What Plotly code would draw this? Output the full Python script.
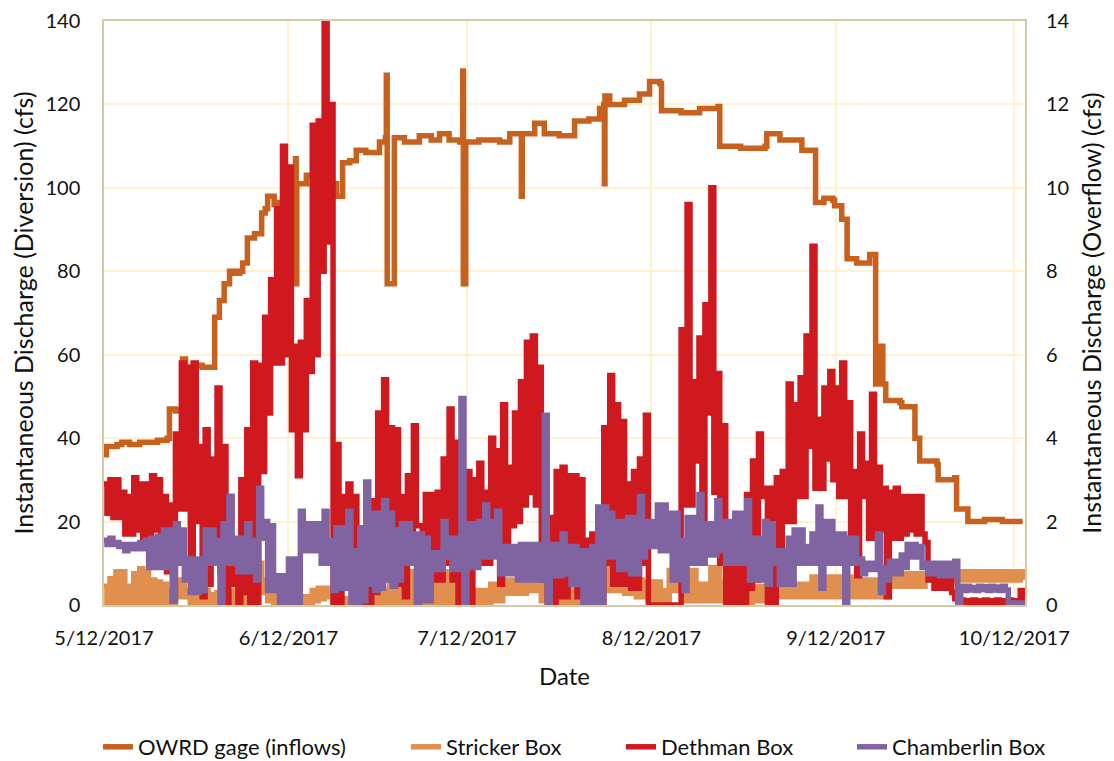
import pandas as pd
import plotly.graph_objects as go

# ---------------- data ----------------
start_date = "2017-05-12"
tick_dates = ["2017-05-12", "2017-06-12", "2017-07-12", "2017-08-12", "2017-09-12", "2017-10-12"]
tick_labels = ["5/12/2017", "6/12/2017", "7/12/2017", "8/12/2017", "9/12/2017", "10/12/2017"]

# OWRD gage (inflows), left axis (cfs); time given as days after 5/12/2017
owrd_day = [0.0, 0.4, 2.2, 3.0, 4.3, 6.0, 7.6, 9.0, 10.1, 10.6,
            11.0, 12.0, 13.0, 13.2, 13.7, 15.0, 16.5, 18.4, 18.6, 19.4,
            20.2, 21.1, 22.0, 22.8, 23.3, 24.1, 25.3, 26.5, 27.1, 27.5,
            28.6, 29.5, 30.7, 32.0, 32.2, 32.3, 32.4, 32.8, 34.0, 35.0,
            36.5, 37.9, 39.1, 40.1, 41.3, 42.4, 44.0, 46.3, 47.3, 47.45,
            47.6, 48.8, 50.5, 53.0, 55.0, 56.4, 58.0, 59.8, 60.2, 60.3,
            60.4, 60.8, 63.0, 66.5, 68.2, 70.0, 70.15, 70.3, 72.4, 74.0,
            76.5, 79.1, 81.5, 83.3, 84.0, 84.1, 84.2, 85.0, 87.5, 90.0,
            91.7, 93.4, 93.7, 97.0, 100.1, 103.2, 103.5, 107.0, 111.1, 111.4,
            113.1, 113.6, 116.9, 117.3, 119.3, 119.6, 121.0, 122.5, 122.8, 123.7,
            124.0, 124.5, 124.9, 126.5, 128.7, 129.5, 129.7, 130.4, 130.9, 131.4,
            133.8, 134.1, 136.0, 136.3, 137.1, 140.0, 140.2, 143.0, 143.3, 145.0,
            145.2, 148.0, 151.0, 154.4]
owrd_cfs = [36, 38, 38.5, 39, 38.5, 39, 39, 39.5, 39.5, 40,
            47, 46.5, 47, 59, 57, 57.5, 57, 57, 69, 73,
            77, 80, 79.5, 80, 82, 88, 89, 94, 95, 98,
            96, 96.5, 96, 101, 107, 77, 101, 101, 103, 101,
            101.5, 101, 98, 106, 106.5, 109, 108.5, 111, 112, 127,
            77, 112, 111, 112.5, 111.5, 113, 111.5, 111, 111, 128,
            77, 111, 111.5, 111, 113, 113, 98, 113, 115.5, 113,
            112.5, 116, 116.5, 119, 120, 101, 122, 120, 121, 122.5,
            125.5, 125, 118.5, 118, 119, 119.5, 110, 109.5, 110, 113,
            113, 111.5, 111.5, 109, 109, 96.5, 97.5, 97, 95.7, 95.7,
            92.5, 92.5, 83, 82, 84, 84, 53, 62, 53, 49,
            48.5, 47.5, 47.5, 40, 34.5, 33.7, 30, 30.5, 23, 23,
            20, 20.5, 20, 20]

# Daily high / low readings (right axis, cfs), day 0 = 5/12/2017 ... day 154
stricker_hi = [0.45, 0.63, 0.8, 0.8, 0.45, 0.75, 0.87, 0.8, 0.6, 0.55,
               0.5, 0.35, 0.6, 0.6, 0.35, 0.35, 0.3, 0.35, 0.25, 0.3,
               0.2, 0.3, 0.35, 0.3, 0.35, 0.6, 1.0, 0.6, 0.55, 0.55,
               0.5, 0.55, 0.55, 0.2, 0.2, 0.35, 0.4, 0.4, 0.35, 0.3,
               0.15, 0.15, 0.15, 0.15, 0.15, 0.15, 0.35, 0.35, 0.5, 0.8,
               0.4, 0.8, 0.8, 0.6, 0.8, 0.75, 0.8, 0.8, 0.7, 0.75,
               0.75, 0.75, 0.35, 0.35, 0.35, 0.5, 0.5, 0.6, 0.6, 0.6,
               0.6, 0.67, 0.67, 0.5, 0.5, 0.67, 0.67, 0.67, 0.67, 0.5,
               0.5, 0.5, 0.5, 0.5, 1.1, 1.2, 1.1, 0.67, 0.67, 0.6,
               0.6, 0.55, 0.55, 0.55, 0.35, 0.83, 0.83, 0.83, 0.83, 0.83,
               0.5, 0.5, 0.9, 0.9, 0.55, 0.55, 0.55, 0.55, 0.55, 0.45,
               0.45, 0.45, 0.45, 0.5, 0.5, 0.5, 0.5, 0.5, 0.5, 0.67,
               0.67, 0.67, 0.67, 0.67, 0.67, 0.67, 0.6, 0.6, 0.6, 0.6,
               0.6, 0.5, 0.75, 0.75, 0.75, 0.75, 0.75, 0.75, 0.75, 0.75,
               0.75, 0.75, 0.75, 0.75, 0.8, 0.8, 0.8, 0.8, 0.8, 0.8,
               0.8, 0.8, 0.8, 0.8, 0.8]
stricker_lo = [0.0, 0.0, 0.0, 0.0, 0.0, 0.0, 0.0, 0.0, 0.0, 0.05,
               0.0, 0.0, 0.2, 0.2, 0.0, 0.0, 0.0, 0.0, 0.0, 0.0,
               0.0, 0.0, 0.0, 0.0, 0.0, 0.0, 0.3, 0.1, 0.0, 0.0,
               0.0, 0.0, 0.0, 0.0, 0.0, 0.1, 0.15, 0.2, 0.1, 0.05,
               0.0, 0.0, 0.0, 0.0, 0.0, 0.0, 0.0, 0.0, 0.0, 0.0,
               0.0, 0.0, 0.0, 0.0, 0.0, 0.0, 0.0, 0.0, 0.0, 0.0,
               0.0, 0.0, 0.0, 0.0, 0.0, 0.1, 0.1, 0.28, 0.28, 0.28,
               0.28, 0.35, 0.35, 0.1, 0.1, 0.05, 0.05, 0.05, 0.05, 0.0,
               0.0, 0.0, 0.0, 0.0, 0.35, 0.35, 0.35, 0.28, 0.28, 0.2,
               0.2, 0.1, 0.1, 0.1, 0.1, 0.35, 0.35, 0.1, 0.1, 0.1,
               0.1, 0.1, 0.1, 0.1, 0.05, 0.05, 0.05, 0.05, 0.05, 0.1,
               0.1, 0.1, 0.1, 0.2, 0.2, 0.2, 0.2, 0.2, 0.2, 0.2,
               0.2, 0.2, 0.2, 0.2, 0.2, 0.2, 0.2, 0.2, 0.2, 0.2,
               0.2, 0.2, 0.45, 0.45, 0.45, 0.45, 0.45, 0.45, 0.6, 0.6,
               0.6, 0.6, 0.6, 0.6, 0.6, 0.6, 0.6, 0.6, 0.6, 0.6,
               0.6, 0.6, 0.6, 0.6, 0.6]

dethman_hi = [2.9, 3.0, 3.0, 2.7, 2.6, 3.05, 2.9, 2.9, 3.1, 3.0,
              2.6, 2.4, 4.1, 5.8, 5.7, 5.8, 3.8, 4.2, 3.5, 5.2,
              3.8, 2.6, 1.5, 3.0, 4.2, 5.8, 5.75, 6.9, 7.8, 9.5,
              11.0, 10.5, 6.2, 6.3, 7.3, 11.5, 11.6, 14.5, 12.0, 3.85,
              2.6, 2.9, 2.6, 1.8, 1.7, 2.5, 4.6, 5.4, 4.25, 4.2,
              2.6, 3.1, 4.3, 1.9, 2.65, 2.65, 2.7, 3.5, 4.7, 3.9,
              2.0, 3.2, 3.0, 3.4, 2.7, 4.0, 3.7, 4.8, 3.3, 4.6,
              5.35, 6.3, 6.45, 5.7, 2.1, 2.1, 3.2, 3.3, 3.1, 3.1,
              3.0, 1.55, 1.7, 2.25, 4.25, 5.5, 4.8, 4.4, 2.9, 3.2,
              3.5, 4.55, 0.0, 0.0, 0.0, 0.0, 0.0, 6.6, 9.6, 5.35,
              6.4, 7.2, 10.0, 5.55, 4.3, 1.0, 1.0, 1.2, 2.65, 3.45,
              4.1, 2.8, 2.8, 3.05, 3.2, 5.3, 4.8, 5.45, 6.45, 8.6,
              4.45, 5.2, 5.6, 5.2, 5.8, 4.85, 3.2, 4.1, 3.4, 5.05,
              3.3, 2.8, 2.7, 2.8, 2.6, 2.6, 2.6, 2.6, 1.5, 0.65,
              0.6, 0.6, 0.7, 0.15, 0.12, 0.1, 0.12, 0.1, 0.12, 0.1,
              0.12, 0.1, 0.12, 0.1, 0.35]
dethman_lo = [2.2, 2.1, 2.1, 1.7, 1.7, 1.8, 1.6, 1.7, 1.8, 1.0,
              0.8, 0.1, 2.3, 2.3, 1.2, 2.0, 0.2, 0.5, 1.0, 0.8,
              0.0, 0.5, 0.0, 0.3, 0.0, 0.0, 3.2, 4.6, 5.8, 5.8,
              6.0, 4.2, 3.1, 4.2, 5.6, 6.0, 8.0, 8.7, 0.0, 0.0,
              1.0, 1.0, 0.2, 0.0, 0.0, 0.3, 1.0, 1.8, 0.5, 0.5,
              0.2, 1.0, 1.9, 0.2, 0.5, 0.6, 0.6, 1.0, 0.6, 0.0,
              0.0, 0.0, 1.0, 1.0, 1.0, 1.8, 0.5, 1.0, 1.9, 2.0,
              2.4, 2.7, 2.4, 0.6, 0.0, 0.0, 0.2, 0.2, 0.5, 0.2,
              0.2, 0.0, 0.0, 0.0, 1.0, 0.5, 0.5, 0.5, 0.4, 0.4,
              1.0, 0.0, 0.0, 0.0, 0.0, 0.0, 0.0, 2.4, 2.4, 3.45,
              1.0, 4.6, 2.7, 1.0, 0.0, 0.0, 0.0, 0.0, 0.4, 0.6,
              2.6, 0.0, 0.0, 1.0, 2.0, 2.0, 2.6, 2.6, 3.8, 2.8,
              2.8, 3.5, 3.0, 2.6, 2.6, 1.0, 0.7, 2.6, 1.6, 1.6,
              1.8, 0.2, 1.6, 1.6, 1.7, 1.8, 1.7, 1.7, 0.6, 0.4,
              0.4, 0.4, 0.3, 0.0, 0.02, 0.0, 0.02, 0.0, 0.02, 0.0,
              0.02, 0.0, 0.02, 0.0, 0.0]

chamberlin_hi = [1.55, 1.6, 1.5, 1.45, 1.45, 1.45, 1.5, 1.55, 1.6, 1.65,
                 1.8, 1.8, 1.95, 1.8, 1.1, 1.1, 1.1, 1.8, 1.8, 1.55,
                 1.95, 2.6, 1.6, 1.6, 1.95, 1.55, 2.8, 2.0, 1.9, 0.7,
                 0.7, 1.1, 1.1, 2.25, 1.95, 1.95, 1.95, 2.25, 1.55, 1.85,
                 1.85, 2.25, 1.3, 1.85, 2.95, 2.2, 2.2, 2.5, 2.2, 1.8,
                 1.95, 1.95, 1.7, 1.7, 1.6, 1.25, 1.25, 2.0, 1.6, 1.6,
                 4.95, 1.95, 1.95, 2.0, 2.4, 2.0, 2.25, 1.4, 1.4, 1.4,
                 1.45, 1.45, 1.45, 1.45, 4.55, 1.45, 1.45, 1.7, 1.4, 1.4,
                 1.3, 1.3, 1.4, 2.35, 2.35, 2.2, 2.0, 2.0, 2.1, 2.1,
                 2.6, 2.0, 2.0, 2.4, 2.4, 2.2, 2.2, 1.55, 2.1, 2.1,
                 2.65, 1.95, 1.95, 2.5, 2.0, 2.0, 2.2, 2.2, 2.5, 1.6,
                 1.6, 2.0, 1.95, 1.3, 1.3, 1.6, 1.8, 1.8, 1.4, 1.7,
                 2.35, 2.0, 2.0, 1.7, 1.7, 1.6, 1.6, 1.1, 1.0, 1.0,
                 1.7, 0.9, 1.05, 1.05, 1.2, 1.45, 1.45, 1.4, 1.0, 1.0,
                 1.0, 1.0, 1.0, 1.05, 0.45, 0.45, 0.42, 0.45, 0.44, 0.45,
                 0.43, 0.45, 0.05, 0.05, 0.05]
chamberlin_lo = [1.45, 1.45, 1.4, 1.3, 1.35, 1.35, 1.35, 0.9, 0.9, 0.9,
                 0.9, 0.1, 1.0, 0.6, 0.3, 0.3, 0.35, 1.0, 1.0, 0.0,
                 1.0, 1.0, 0.8, 0.8, 0.8, 0.6, 1.6, 0.35, 0.35, 0.0,
                 0.0, 0.0, 0.0, 1.3, 1.3, 1.3, 1.0, 1.0, 0.35, 0.4,
                 0.4, 0.0, 0.0, 0.1, 0.5, 0.35, 0.4, 0.6, 0.45, 0.6,
                 1.0, 1.0, 0.0, 0.1, 0.1, 0.85, 0.85, 1.15, 0.85, 0.85,
                 0.0, 0.9, 0.9, 1.15, 1.15, 1.15, 0.75, 0.75, 0.75, 0.6,
                 0.6, 0.6, 0.6, 0.6, 0.0, 0.7, 0.7, 0.75, 0.5, 0.5,
                 0.0, 0.0, 0.0, 0.0, 1.15, 1.15, 0.85, 0.85, 0.75, 0.75,
                 1.15, 1.4, 1.4, 1.3, 1.3, 0.6, 0.6, 0.35, 1.0, 1.0,
                 1.0, 1.2, 1.2, 1.3, 1.0, 1.0, 1.0, 1.0, 0.6, 0.6,
                 0.6, 0.5, 1.0, 0.5, 0.5, 0.5, 1.0, 1.0, 1.0, 1.0,
                 0.4, 1.0, 1.0, 1.0, 0.0, 1.0, 1.0, 0.75, 0.85, 0.85,
                 0.3, 0.6, 0.75, 0.75, 0.9, 1.15, 1.15, 0.9, 0.75, 0.75,
                 0.7, 0.7, 0.7, 0.05, 0.35, 0.36, 0.35, 0.37, 0.35, 0.36,
                 0.35, 0.36, 0.0, 0.0, 0.0]

series_names = ["OWRD gage (inflows)", "Stricker Box", "Dethman Box", "Chamberlin Box"]
series_colors = ["#C8601E", "#E08F4F", "#D0181F", "#8064A2"]

# ---------------- build ----------------
base = pd.Timestamp(start_date)


def daily_trace(hi, lo):
    xs, ys = [], []
    for i, (h, l) in enumerate(zip(hi, lo)):
        xs.append(base + pd.Timedelta(days=i))
        ys.append(h)
        xs.append(base + pd.Timedelta(days=i + 0.5))
        ys.append(l)
    return xs, ys


fig = go.Figure()
owrd_x = [base + pd.Timedelta(days=d) for d in owrd_day]
fig.add_trace(go.Scatter(x=owrd_x, y=owrd_cfs, mode="lines", name=series_names[0],
                         legend="legend",
                         line=dict(color=series_colors[0], width=5.5, shape="hv")))
legend_ids = ["legend2", "legend3", "legend4"]
for k, (name, color, hi, lo) in enumerate([(series_names[1], series_colors[1], stricker_hi, stricker_lo),
                                           (series_names[2], series_colors[2], dethman_hi, dethman_lo),
                                           (series_names[3], series_colors[3], chamberlin_hi, chamberlin_lo)]):
    xs, ys = daily_trace(hi, lo)
    fig.add_trace(go.Scatter(x=xs, y=ys, mode="lines", name=name, yaxis="y2",
                             legend=legend_ids[k],
                             line=dict(color=color, width=5.5, shape="hv")))

grid_col = "#FFF2CC"
border_col = "#D3CBA3"
font_family = "Lato, 'Open Sans', sans-serif"

# the page body adds an 8px offset, so the figure is 8px smaller and shifted
page_off = 8
fig_w, fig_h = 1114 - page_off, 761 - page_off
plot_top = 21 - page_off
plot_bottom = 605 - page_off
plot_left, plot_w = 104 - page_off, 921
plot_h = plot_bottom - plot_top
legend_text_px = [138, 446, 661, 892]
legend_y = (plot_bottom - (747 - page_off)) / plot_h


def legend_box(px):
    return dict(orientation="h", x=(px - page_off - 40 - plot_left) / plot_w, xanchor="left",
                y=legend_y, yanchor="middle", font=dict(size=22),
                bgcolor="rgba(0,0,0,0)", borderwidth=0)


fig.update_layout(
    template="none",
    width=fig_w, height=fig_h,
    margin=dict(l=plot_left, r=fig_w - plot_left - plot_w, t=plot_top,
                b=fig_h - plot_bottom, autoexpand=False),
    paper_bgcolor="white", plot_bgcolor="white",
    font=dict(family=font_family, size=20, color="#111111"),
    showlegend=True,
    legend=legend_box(legend_text_px[0]),
    legend2=legend_box(legend_text_px[1]),
    legend3=legend_box(legend_text_px[2]),
    legend4=legend_box(legend_text_px[3]),
    xaxis=dict(type="date", automargin=False,
               range=[base, base + pd.Timedelta(days=154.8)],
               tickvals=tick_dates, ticktext=tick_labels,
               showgrid=True, gridcolor=grid_col, gridwidth=1.5,
               showline=True, linecolor=border_col, linewidth=1.5, mirror=True,
               ticks="outside", ticklen=14, tickcolor="rgba(0,0,0,0)",
               ticklabeloverflow="allow",
               zeroline=False,
               title=dict(text="Date", font=dict(size=24), standoff=20)),
    yaxis=dict(range=[0, 140], tick0=0, dtick=20, automargin=False,
               showgrid=True, gridcolor=grid_col, gridwidth=1.5,
               showline=True, linecolor=border_col, linewidth=1.5, mirror=True,
               ticks="outside", ticklen=18, tickcolor="rgba(0,0,0,0)",
               ticklabeloverflow="allow",
               zeroline=False,
               title=dict(text="Instantaneous Discharge (Diversion) (cfs)", font=dict(size=25), standoff=14)),
    yaxis2=dict(range=[0, 14], tick0=0, dtick=2, overlaying="y", side="right", automargin=False,
                showgrid=False, zeroline=False, showline=False,
                ticks="outside", ticklen=16, tickcolor="rgba(0,0,0,0)",
                ticklabeloverflow="allow",
                title=dict(text="Instantaneous Discharge (Overflow) (cfs)", font=dict(size=25), standoff=14)),
)

fig.write_html("out.html")
